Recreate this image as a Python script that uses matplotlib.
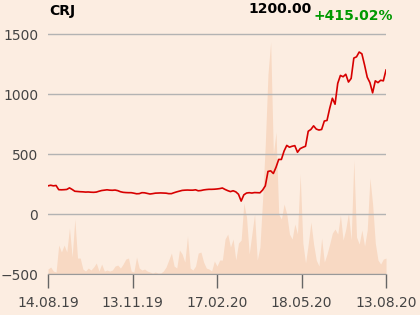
import numpy as np
import matplotlib
matplotlib.use("Agg")
import matplotlib.pyplot as plt

# CRJ, one year of trading days (every second session)
ticker = "CRJ"
last_price = "1200.00"
change = "+415.02%"

price = [235, 240, 235, 238, 203, 202, 203, 205, 218, 205,
         190, 188, 186, 185, 183, 184, 182, 181, 183, 190,
         196, 199, 202, 199, 198, 200, 195, 186, 181, 179,
         178, 178, 174, 169, 170, 178, 177, 172, 167, 170,
         174, 175, 176, 175, 174, 170, 170, 178, 185, 191,
         197, 199, 200, 199, 199, 202, 194, 196, 201, 204,
         206, 206, 207, 209, 212, 217, 205, 195, 187, 194,
         185, 165, 108, 160, 175, 178, 175, 179, 178, 177,
         200, 235, 355, 360, 338, 390, 455, 455, 525, 572,
         557, 565, 570, 515, 545, 556, 565, 690, 705, 735,
         708, 700, 705, 775, 780, 880, 965, 915, 1089, 1155,
         1144, 1165, 1100, 1130, 1300, 1310, 1350, 1335, 1242, 1140,
         1095, 1010, 1110, 1095, 1115, 1110, 1200]

volume = [5, 7, 3, 2, 29, 22, 29, 22, 46, 17,
          55, 16, 16, 5, 3, 6, 4, 7, 11, 3,
          10, 3, 4, 3, 4, 8, 9, 6, 10, 15,
          16, 3, 2, 17, 6, 4, 5, 3, 2, 1,
          2, 1, 1, 3, 7, 14, 21, 8, 6, 24,
          20, 12, 38, 6, 4, 8, 21, 22, 12, 6,
          5, 3, 13, 8, 14, 14, 35, 40, 27, 35,
          14, 31, 34, 71, 57, 20, 40, 60, 14, 27,
          75, 130, 200, 232, 120, 142, 60, 55, 70, 60,
          40, 35, 50, 40, 100, 31, 11, 30, 52, 30,
          14, 8, 36, 12, 20, 30, 41, 45, 40, 59,
          34, 45, 61, 34, 114, 37, 30, 44, 28, 44,
          96, 70, 31, 14, 10, 15, 16]

tick_labels = ["14.08.19", "13.11.19", "17.02.20", "18.05.20", "13.08.20"]

bg = "#fcede1"
x = np.arange(len(price))

fig = plt.figure(figsize=(4.2, 3.15), dpi=100, facecolor=bg)
ax = fig.add_axes([0.1143, 0.130, 0.8048, 0.781])
ax_vol = ax.twinx()

ax_vol.fill_between(x, 0, volume, color="#f8d9c3", lw=0)
ax_vol.set_ylim(0, 246)
ax_vol.set_yticks([])
for s in ax_vol.spines.values():
    s.set_visible(False)

ax.set_zorder(ax_vol.get_zorder() + 1)
ax.patch.set_visible(False)
ax_vol.set_facecolor(bg)

ax.plot(x, price, color="#d70000", lw=1.2)
ax.set_xlim(0, len(price) - 1)
ax.set_ylim(-500, 1550)
ax.set_yticks([-500, 0, 500, 1000, 1500])
ax.yaxis.grid(True, color="#b3b3b3", lw=1)
ax.set_axisbelow(True)

ax.set_xticks(np.linspace(0, len(price) - 1, len(tick_labels)))
ax.set_xticklabels(tick_labels)
ax.tick_params(axis="x", length=10, width=1, color="#666666", pad=6,
               labelsize=10, labelcolor="#444444")
ax.tick_params(axis="y", length=0, pad=7, labelsize=10, labelcolor="#444444")

for side in ["top", "right", "left"]:
    ax.spines[side].set_visible(False)
ax.spines["bottom"].set_color("#999999")

fig.text(0.117, 0.965, ticker, fontsize=10, fontweight="bold", va="center", ha="left")
fig.text(0.742, 0.970, last_price, fontsize=10, fontweight="bold", va="center", ha="right")
fig.text(0.747, 0.950, change, fontsize=10, fontweight="bold", va="center", ha="left",
         color="#009900")

fig.savefig("out.png", dpi=100, facecolor=bg)
